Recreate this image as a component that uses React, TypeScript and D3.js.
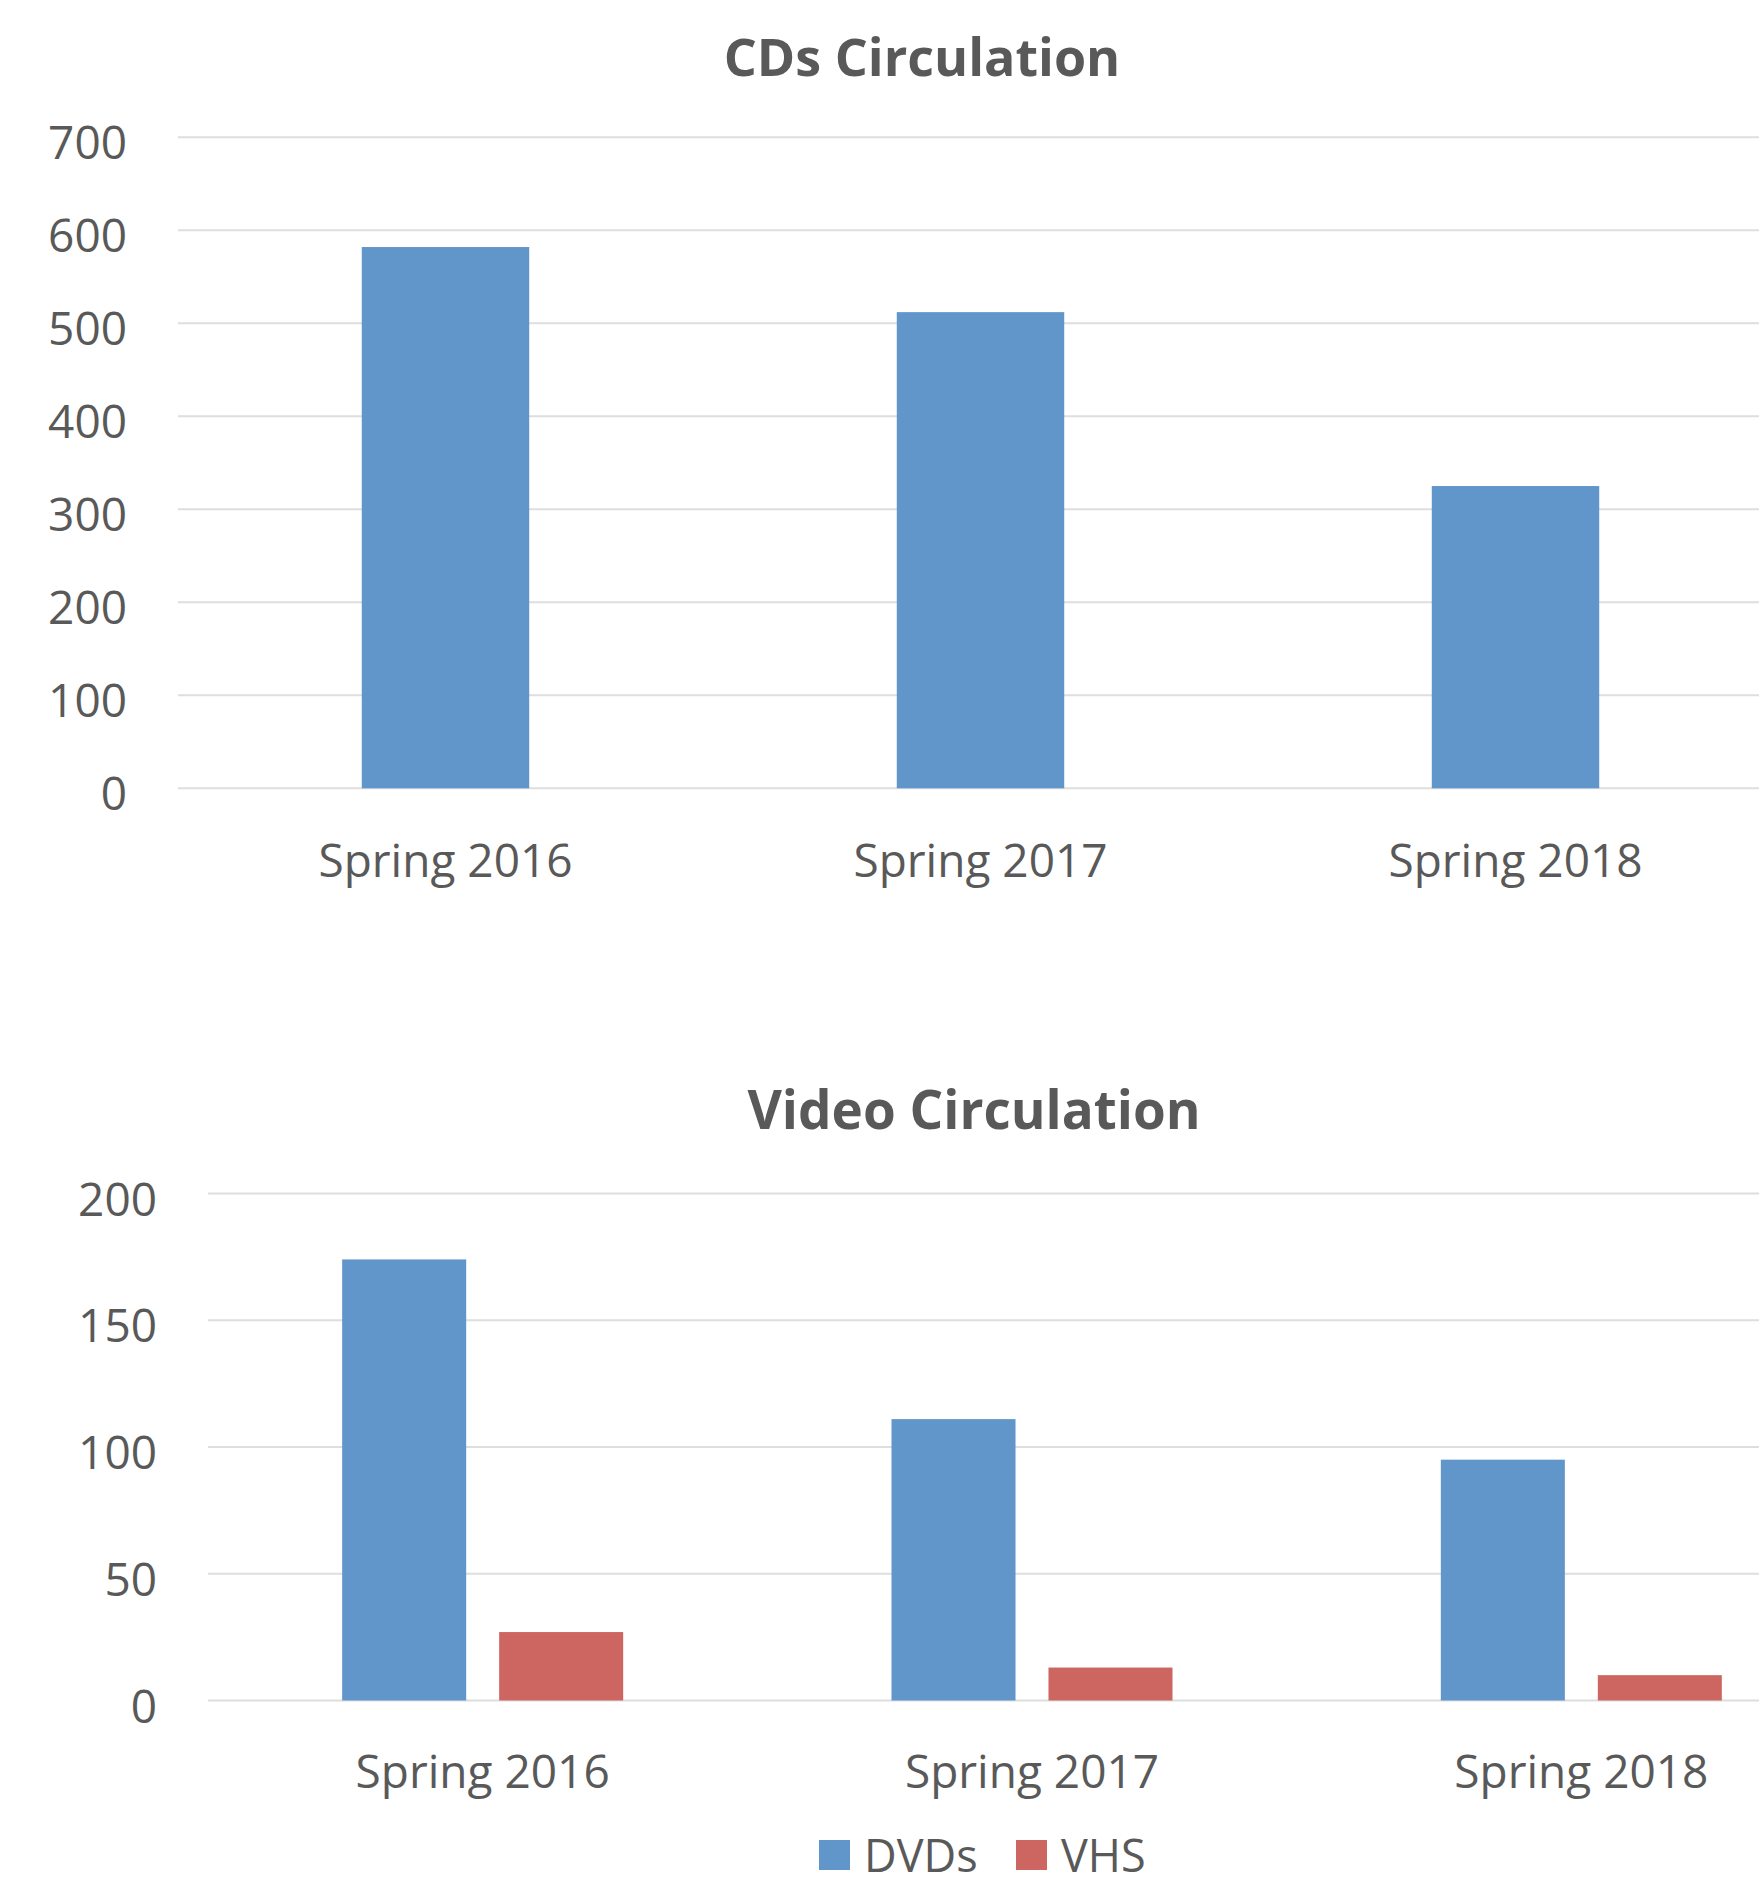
import React, { useEffect, useRef } from "react";
import * as d3 from "d3";

// Chart data
const categories = ["Spring 2016", "Spring 2017", "Spring 2018"];
const cdValues = [582, 512, 325];
const cdTicks = [0, 100, 200, 300, 400, 500, 600, 700];

const videoSeries = ["DVDs", "VHS"];
const dvdValues = [174, 111, 95];
const vhsValues = [27, 13, 10];
const videoTicks = [0, 50, 100, 150, 200];

const BLUE = "#6096C9";
const RED = "#CD6660";
const TEXT = "#595959";
const GRID = "#DEDEDE";
const FONT = "'Open Sans', 'Noto Sans', sans-serif";

const App: React.FC = () => {
  const svgRef = useRef<SVGSVGElement | null>(null);

  useEffect(() => {
    if (!svgRef.current) return;
    const svg = d3.select(svgRef.current);
    svg.selectAll("*").remove();

    // ---------- CDs Circulation ----------
    const top = svg.append("g");
    const x1 = d3.scaleBand<string>().domain(categories).range([178, 1783]).padding(0);
    const y1 = d3.scaleLinear().domain([0, 700]).range([788.3, 137.3]);
    const barW1 = x1.bandwidth() * 0.313;

    top
      .selectAll(".grid")
      .data(cdTicks)
      .enter()
      .append("line")
      .attr("x1", x1.range()[0])
      .attr("x2", x1.range()[1])
      .attr("y1", (d) => y1(d))
      .attr("y2", (d) => y1(d))
      .attr("stroke", GRID)
      .attr("stroke-width", 2);

    top
      .selectAll(".ylab")
      .data(cdTicks)
      .enter()
      .append("text")
      .attr("x", 127)
      .attr("y", (d) => y1(d) + 22)
      .attr("text-anchor", "end")
      .attr("font-size", 46)
      .attr("fill", TEXT)
      .text((d) => d.toString());

    top
      .selectAll(".bar")
      .data(cdValues)
      .enter()
      .append("rect")
      .attr("x", (_, i) => (x1(categories[i]) as number) + x1.bandwidth() / 2 - barW1 / 2)
      .attr("y", (d) => y1(d))
      .attr("width", barW1)
      .attr("height", (d) => y1(0) - y1(d))
      .attr("fill", BLUE);

    top
      .selectAll(".xlab")
      .data(categories)
      .enter()
      .append("text")
      .attr("x", (d) => (x1(d) as number) + x1.bandwidth() / 2)
      .attr("y", y1(0) + 89)
      .attr("text-anchor", "middle")
      .attr("font-size", 46)
      .attr("fill", TEXT)
      .text((d) => d);

    top
      .append("text")
      .attr("x", 922)
      .attr("y", 76)
      .attr("text-anchor", "middle")
      .attr("font-size", 52)
      .attr("font-weight", "bold")
      .attr("fill", TEXT)
      .text("CDs Circulation");

    // ---------- Video Circulation ----------
    const bottom = svg.append("g");
    const x2 = d3.scaleBand<string>().domain(categories).range([208, 1856]).padding(0);
    const inner = d3.scaleBand<string>().domain(videoSeries).range([0, 281]).paddingInner(0.21).paddingOuter(0);
    const y2 = d3.scaleLinear().domain([0, 200]).range([1700.5, 1193.5]);
    const colors: Record<string, string> = { DVDs: BLUE, VHS: RED };

    bottom
      .selectAll(".grid")
      .data(videoTicks)
      .enter()
      .append("line")
      .attr("x1", x2.range()[0])
      .attr("x2", x2.range()[1])
      .attr("y1", (d) => y2(d))
      .attr("y2", (d) => y2(d))
      .attr("stroke", GRID)
      .attr("stroke-width", 2);

    bottom
      .selectAll(".ylab")
      .data(videoTicks)
      .enter()
      .append("text")
      .attr("x", 157)
      .attr("y", (d) => y2(d) + 22)
      .attr("text-anchor", "end")
      .attr("font-size", 46)
      .attr("fill", TEXT)
      .text((d) => d.toString());

    const rows = categories.flatMap((c, i) => [
      { cat: c, key: "DVDs", value: dvdValues[i] },
      { cat: c, key: "VHS", value: vhsValues[i] },
    ]);

    bottom
      .selectAll(".bar")
      .data(rows)
      .enter()
      .append("rect")
      .attr(
        "x",
        (d) => (x2(d.cat) as number) + x2.bandwidth() / 2 - 281 / 2 + (inner(d.key) as number)
      )
      .attr("y", (d) => y2(d.value))
      .attr("width", inner.bandwidth())
      .attr("height", (d) => y2(0) - y2(d.value))
      .attr("fill", (d) => colors[d.key]);

    bottom
      .selectAll(".xlab")
      .data(categories)
      .enter()
      .append("text")
      .attr("x", (d) => (x2(d) as number) + x2.bandwidth() / 2)
      .attr("y", y2(0) + 87.5)
      .attr("text-anchor", "middle")
      .attr("font-size", 46)
      .attr("fill", TEXT)
      .text((d) => d);

    bottom
      .append("text")
      .attr("x", 974)
      .attr("y", 1129)
      .attr("text-anchor", "middle")
      .attr("font-size", 53)
      .attr("font-weight", "bold")
      .attr("fill", TEXT)
      .text("Video Circulation");

    // legend
    const legendX = [819, 1016];
    const legend = bottom
      .selectAll(".legend")
      .data(videoSeries)
      .enter()
      .append("g")
      .attr("transform", (_, i) => `translate(${legendX[i]}, 1840)`);
    legend
      .append("rect")
      .attr("width", 31)
      .attr("height", 30)
      .attr("fill", (d) => colors[d]);
    legend
      .append("text")
      .attr("x", 45)
      .attr("y", 32)
      .attr("font-size", 45)
      .attr("fill", TEXT)
      .text((d) => d);
  }, []);

  return (
    <svg
      ref={svgRef}
      width={1759}
      height={1885}
      style={{ position: "absolute", left: 0, top: 0, background: "#fff", fontFamily: FONT }}
    />
  );
};

export default App;
